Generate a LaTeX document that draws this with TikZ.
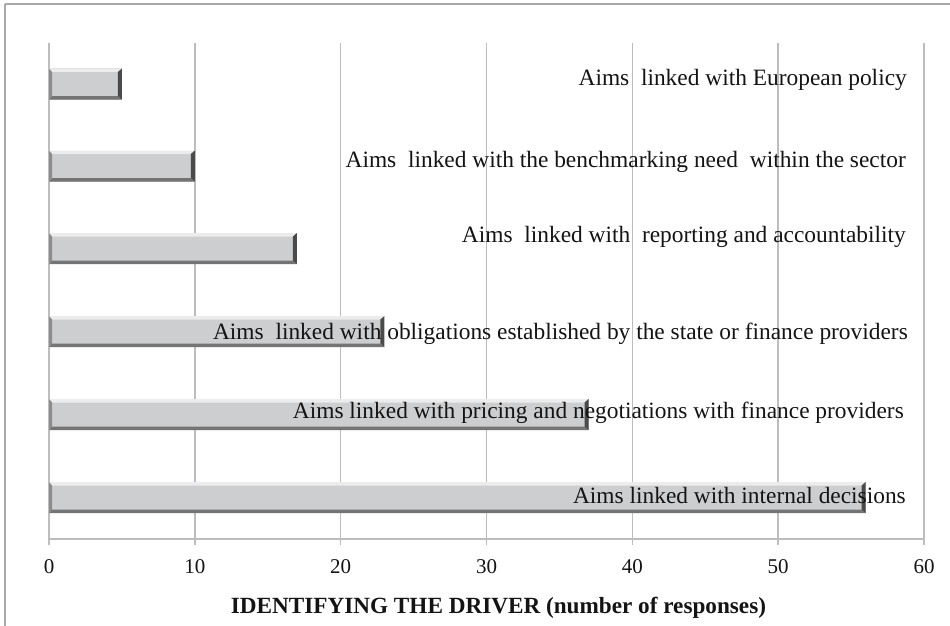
\documentclass[tikz,border=0pt]{standalone}
\usepackage{fontspec}
\setmainfont{Liberation Serif}
\definecolor{gridc}{HTML}{BDBDC0}
\definecolor{framec}{HTML}{A8A8A8}
\definecolor{barc}{HTML}{CDCED0}
\definecolor{barlight}{HTML}{ECECEC}
\definecolor{bardark}{HTML}{747474}
\definecolor{barend}{HTML}{4A4A4A}
\definecolor{barleft}{HTML}{8C8C8C}
\tikzset{
  gridline/.style={draw=gridc, line width=1.4pt},
  frameline/.style={draw=framec, line width=1.6pt},
  lab/.style={font=\fontsize{23.4}{27}\selectfont, text=black!92, inner sep=0pt, anchor=base east},
  ticklab/.style={font=\fontsize{21}{25}\selectfont, text=black!92, inner sep=0pt, anchor=base},
  titlelab/.style={font=\fontsize{23.2}{27}\selectfont\bfseries, text=black!92, inner sep=0pt, anchor=base}
}
\newcommand\drawbar[2]{%
  \pgfmathsetmacro\xe{49+14.5833*#1}
  \fill[barc] (49,#2-15.5) rectangle (\xe,#2+15.5);
  \fill[barlight] (49,#2-15.5) -- (\xe,#2-15.5) -- (\xe-4,#2-12) -- (52,#2-12) -- cycle;
  \fill[bardark] (49,#2+15.5) -- (\xe,#2+15.5) -- (\xe-4,#2+12) -- (52,#2+12) -- cycle;
  \fill[barleft] (49,#2-15.5) -- (52,#2-12) -- (52,#2+12) -- (49,#2+15.5) -- cycle;
  \fill[barend] (\xe,#2-15.5) -- (\xe,#2+15.5) -- (\xe-4,#2+12) -- (\xe-4,#2-12) -- cycle;
}
\begin{document}
\begin{tikzpicture}[x=1pt,y=-1pt]
\useasboundingbox (0,0) rectangle (950,626);
\fill[white] (0,0) rectangle (950,626);
\draw[frameline] (5,4) -- (950,4);
\draw[frameline] (5,4) -- (5,626);
% grid
\foreach \i in {0,...,6} {
  \draw[gridline] (49+145.833*\i,43) -- (49+145.833*\i,545);
}
\draw[gridline] (49,539) -- (924,539);
% ticks
\foreach \i/\t in {0/0,1/10,2/20,3/30,4/40,5/50,6/60} {
  \node[ticklab] (t\i) at (49+145.833*\i,573) {\t};
}
% bars
\drawbar{5}{84}
\drawbar{10}{166}
\drawbar{17}{248.5}
\drawbar{23}{331.5}
\drawbar{37}{414.5}
\drawbar{56}{497.5}
% labels
\node[lab] (l1) at (907,85) {Aims\ \ linked with European policy};
\node[lab] (l2) at (906,167) {Aims\ \ linked with the benchmarking need\ \ within the sector};
\node[lab] (l3) at (906,242) {Aims\ \ linked with\ \ reporting and accountability};
\node[lab] (l4) at (908,339) {Aims\ \ linked with obligations established by the state or finance providers};
\node[lab] (l5) at (904,418) {Aims linked with pricing and negotiations with finance providers};
\node[lab] (l6) at (906,503) {Aims linked with internal decisions};
% title
\node[titlelab] (title) at (498.5,613) {IDENTIFYING THE DRIVER (number of responses)};
\end{tikzpicture}
\end{document}
